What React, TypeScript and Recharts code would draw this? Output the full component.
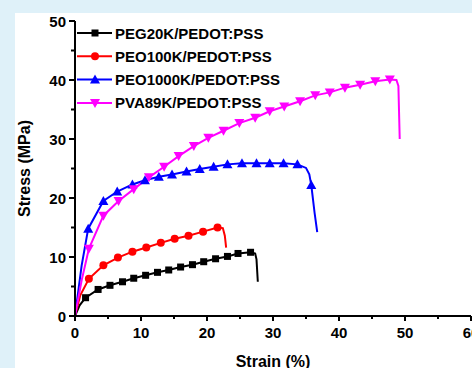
import React from 'react';
import { LineChart, Line, XAxis, YAxis, Legend } from 'recharts';

// [strain %, stress MPa, marker?]
type Pt = [number, number, number];

const PEG20K: Pt[] = [
  [0, 0, 0], [0.7, 1.8, 0], [1.6, 3.1, 1], [3.5, 4.5, 1], [5.3, 5.2, 1], [7.2, 5.8, 1],
  [8.9, 6.4, 1], [10.7, 6.9, 1], [12.5, 7.4, 1], [14.2, 7.8, 1], [16.0, 8.3, 1],
  [17.8, 8.7, 1], [19.5, 9.2, 1], [21.3, 9.7, 1], [23.1, 10.1, 1], [24.7, 10.6, 1],
  [26.6, 10.8, 1], [27.3, 10.6, 0], [27.5, 9.6, 0], [27.7, 5.8, 0],
];

const PEO100K: Pt[] = [
  [0, 0, 0], [0.8, 3.5, 0], [2.1, 6.3, 1], [4.3, 8.6, 1], [6.5, 9.9, 1], [8.7, 10.9, 1],
  [10.8, 11.6, 1], [13.0, 12.4, 1], [15.1, 13.1, 1], [17.2, 13.6, 1], [19.4, 14.3, 1],
  [21.6, 15.0, 1], [22.4, 14.9, 0], [22.7, 13.6, 0], [22.9, 11.6, 0],
];

const PEO1000K: Pt[] = [
  [0, 0, 0], [1.0, 8.5, 0], [2.0, 14.8, 1], [4.3, 19.5, 1], [6.4, 21.1, 1], [8.7, 22.3, 1],
  [10.6, 23.0, 1], [12.7, 23.6, 1], [14.7, 24.0, 1], [16.9, 24.5, 1], [18.9, 24.9, 1],
  [21.0, 25.3, 1], [23.1, 25.7, 1], [25.3, 25.9, 1], [27.5, 25.9, 1], [29.5, 25.9, 1],
  [31.6, 25.9, 1], [33.7, 25.7, 1], [35.0, 25.1, 0], [35.5, 24.0, 0], [35.8, 22.2, 1],
  [36.3, 17.5, 0], [36.7, 14.2, 0],
];

const PVA89K: Pt[] = [
  [0, 0, 0], [1.0, 6.0, 0], [2.1, 11.4, 1], [4.3, 17.0, 1], [6.6, 19.5, 1], [8.9, 21.5, 1],
  [11.2, 23.5, 1], [13.5, 25.3, 1], [15.7, 27.1, 1], [18.0, 28.8, 1], [20.2, 30.2, 1],
  [22.5, 31.4, 1], [24.9, 32.7, 1], [27.3, 33.6, 1], [29.5, 34.7, 1], [31.7, 35.5, 1],
  [34.1, 36.4, 1], [36.4, 37.4, 1], [38.6, 37.9, 1], [40.9, 38.7, 1], [43.2, 39.2, 1],
  [45.5, 39.8, 1], [47.7, 40.1, 1], [48.7, 40.0, 0], [49.0, 39.0, 0], [49.2, 30.0, 0],
];

const SERIES = [
  { name: 'PEG20K/PEDOT:PSS', color: '#000000', shape: 'square', pts: PEG20K },
  { name: 'PEO100K/PEDOT:PSS', color: '#ff0000', shape: 'circle', pts: PEO100K },
  { name: 'PEO1000K/PEDOT:PSS', color: '#0000ff', shape: 'up', pts: PEO1000K },
  { name: 'PVA89K/PEDOT:PSS', color: '#ff00ff', shape: 'down', pts: PVA89K },
];

const X_TICKS = [0, 5, 10, 15, 20, 25, 30, 35, 40, 45, 50, 55, 60];
const Y_TICKS = [0, 5, 10, 15, 20, 25, 30, 35, 40, 45, 50];

const FONT = '"Liberation Sans", Arial, sans-serif';

const Marker = ({ shape, cx, cy, color }: { shape: string; cx: number; cy: number; color: string }) => {
  if (shape === 'square') return <rect x={cx - 3.5} y={cy - 3.5} width={7} height={7} fill={color} />;
  if (shape === 'circle') return <circle cx={cx} cy={cy} r={4} fill={color} />;
  if (shape === 'up')
    return <polygon points={`${cx},${cy - 5} ${cx - 5},${cy + 4} ${cx + 5},${cy + 4}`} fill={color} />;
  return <polygon points={`${cx - 5},${cy - 4} ${cx + 5},${cy - 4} ${cx},${cy + 5}`} fill={color} />;
};

const rows = (pts: Pt[]) => pts.map(([x, y, m]) => ({ x, y, m }));

// ticks drawn by hand so major and minor get different lengths
const LeftTick = (p: any) => {
  const v = p.payload.value;
  const major = v % 10 === 0;
  return (
    <g>
      <line x1={p.x - (major ? 6 : 4)} x2={p.x} y1={p.y} y2={p.y} stroke="#000" strokeWidth={2} />
      {major && (
        <text x={p.x - 9} y={p.y} textAnchor="end" dominantBaseline="central" fontSize={15} fontWeight="bold" fontFamily={FONT} fill="#000">
          {v}
        </text>
      )}
    </g>
  );
};

const BottomTick = (p: any) => {
  const v = p.payload.value;
  const major = v % 10 === 0;
  return (
    <g>
      <line x1={p.x} x2={p.x} y1={p.y} y2={p.y + (major ? 5 : 3)} stroke="#000" strokeWidth={2} />
      {major && (
        <text x={p.x} y={p.y + 22} textAnchor="middle" fontSize={15} fontWeight="bold" fontFamily={FONT} fill="#000">
          {v}
        </text>
      )}
    </g>
  );
};

const TopTick = (p: any) => {
  const major = p.payload.value % 10 === 0;
  return <line x1={p.x} x2={p.x} y1={p.y} y2={p.y + (major ? 5 : 3)} stroke="#000" strokeWidth={2} />;
};

const RightTick = (p: any) => {
  const major = p.payload.value % 10 === 0;
  return <line x1={p.x - (major ? 5 : 3)} x2={p.x} y1={p.y} y2={p.y} stroke="#000" strokeWidth={2} />;
};

const LegendBox = () => (
  <svg width={220} height={100} style={{ display: 'block' }}>
    {SERIES.map((s, i) => {
      const cy = 11 + i * 23.3;
      return (
        <g key={s.name}>
          <line x1={1} x2={36} y1={cy} y2={cy} stroke={s.color} strokeWidth={2} />
          <Marker shape={s.shape} cx={19} cy={cy} color={s.color} />
          <text x={39} y={cy} dominantBaseline="central" fontSize={15} fontWeight="bold" fontFamily={FONT} fill="#000">
            {s.name}
          </text>
        </g>
      );
    })}
  </svg>
);

export default function App() {
  return (
    <div style={{ position: 'absolute', left: 0, top: 0, width: 472, height: 368, background: '#dff1f9', overflow: 'hidden' }}>
      <div style={{ position: 'absolute', left: 15, top: 13, width: 457, height: 355, background: '#ffffff' }} />
      <div style={{ position: 'absolute', left: 0, top: 0 }}>
        <LineChart width={472} height={368} margin={{ top: 21, right: 1, left: 15, bottom: 22 }}>
          <XAxis
            xAxisId="b"
            dataKey="x"
            type="number"
            domain={[0, 60]}
            ticks={X_TICKS}
            interval={0}
            height={30}
            tickSize={0}
            tickMargin={0}
            tickLine={false}
            tick={BottomTick}
            axisLine={{ stroke: '#000', strokeWidth: 2 }}
            allowDataOverflow
            label={({ viewBox }: any) => (
              <text x={viewBox.x + viewBox.width / 2} y={367} textAnchor="middle" fontSize={16} fontWeight="bold" fontFamily={FONT} fill="#000">
                Strain (%)
              </text>
            )}
          />
          <XAxis
            xAxisId="t"
            orientation="top"
            mirror
            type="number"
            domain={[0, 60]}
            ticks={X_TICKS}
            interval={0}
            height={0}
            tickSize={0}
            tickMargin={0}
            tickLine={false}
            tick={TopTick}
            axisLine={{ stroke: '#000', strokeWidth: 2 }}
            allowDataOverflow
          />
          <YAxis
            yAxisId="l"
            type="number"
            domain={[0, 50]}
            ticks={Y_TICKS}
            interval={0}
            width={60}
            tickSize={0}
            tickMargin={0}
            tickLine={false}
            tick={LeftTick}
            axisLine={{ stroke: '#000', strokeWidth: 2 }}
            allowDataOverflow
            label={({ viewBox }: any) => {
              const cx = 24;
              const cy = viewBox.y + viewBox.height / 2;
              return (
                <text x={cx} y={cy} transform={`rotate(-90 ${cx} ${cy})`} textAnchor="middle" dominantBaseline="central" fontSize={16} fontWeight="bold" fontFamily={FONT} fill="#000">
                  Stress (MPa)
                </text>
              );
            }}
          />
          <YAxis
            yAxisId="r"
            orientation="right"
            mirror
            type="number"
            domain={[0, 50]}
            ticks={Y_TICKS}
            interval={0}
            width={0}
            tickSize={0}
            tickMargin={0}
            tickLine={false}
            tick={RightTick}
            axisLine={{ stroke: '#000', strokeWidth: 2 }}
            allowDataOverflow
          />
          <Legend
            layout="horizontal"
            verticalAlign="middle"
            wrapperStyle={{ left: 76, top: 22, width: 220 }}
            content={() => <LegendBox />}
          />
          {SERIES.map((s) => (
            <Line
              key={s.name}
              xAxisId="b"
              yAxisId="l"
              data={rows(s.pts)}
              dataKey="y"
              name={s.name}
              type="linear"
              stroke={s.color}
              strokeWidth={2}
              isAnimationActive={false}
              dot={(d: any) =>
                d.payload.m ? <Marker key={`${s.name}-${d.index}`} shape={s.shape} cx={d.cx} cy={d.cy} color={s.color} /> : <g key={`${s.name}-${d.index}`} />
              }
              activeDot={false}
            />
          ))}
        </LineChart>
      </div>
    </div>
  );
}
